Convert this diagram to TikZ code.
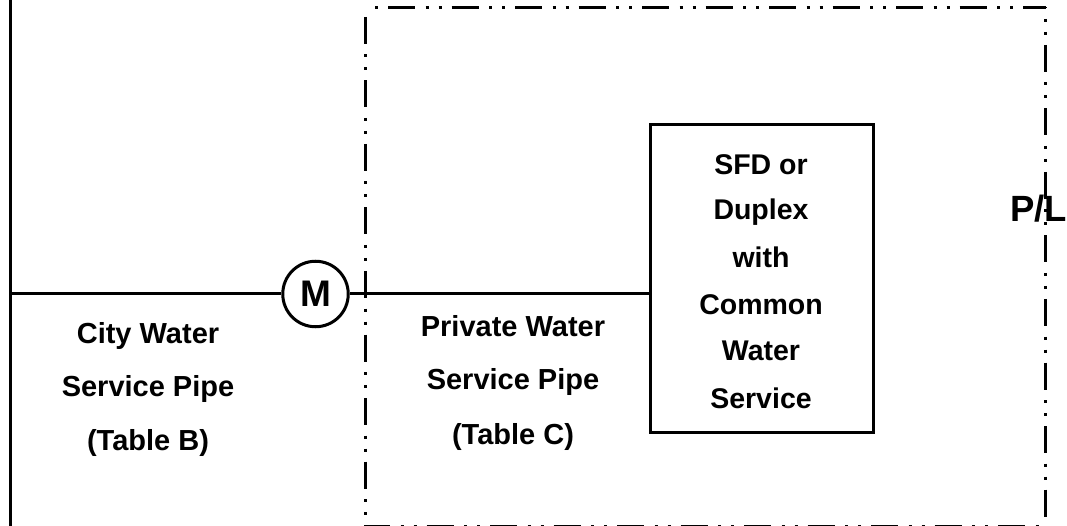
\documentclass[tikz,border=0pt]{standalone}
\usepackage{fontspec}
\setmainfont{Liberation Sans}
\tikzset{
  x=1pt,y=-1pt,
  pipe/.style={line width=3pt,black},
  pl/.style={line width=3pt,black,dash pattern=on 27pt off 10.5pt on 3pt off 10pt on 3pt off 10pt},
  lbl/.style={font=\fontsize{29pt}{34pt}\bfseries,inner sep=0pt,anchor=center},
  boxlbl/.style={font=\fontsize{28.5pt}{34pt}\bfseries,inner sep=0pt,anchor=center},
}
\begin{document}
\begin{tikzpicture}
\useasboundingbox (0,0) rectangle (1067,526);
\clip (0,0) rectangle (1067,526);
\draw[pl,dash phase=40.5pt] (365,7.5) -- (1046,7.5);
\draw[pl,dash phase=54pt] (365,7.5) -- (365,526);
\draw[pl,dash phase=26pt] (1045,7.5) -- (1045,526);
\draw[pl,dash phase=2pt] (365,526) -- (1046,526);
\coordinate (lt) at (10,0);
\coordinate (lb) at (10,526);
\coordinate (lj) at (10,293.5);
\draw[pipe] (lt) -- (lb);
\node[draw,circle,line width=3pt,minimum size=65.5pt,inner sep=0pt,font=\fontsize{37pt}{38pt}\bfseries] (m) at (315.5,294) {M};
\node[draw,line width=3pt,minimum width=223pt,minimum height=307pt,inner sep=0pt] (box) at (761.5,278.5) {};
\draw[pipe] (lj) -- (m.west |- lj);
\draw[pipe] (m.east |- 0,294) -- (box.west |- 0,294);
\node[boxlbl] (b1) at (761,165) {SFD or};
\node[boxlbl] (b2) at (761,212) {Duplex};
\node[boxlbl] (b3) at (761,257) {with};
\node[boxlbl] (b4) at (761,305) {Common};
\node[boxlbl] (b5) at (761,351) {Water};
\node[boxlbl] (b6) at (761,398) {Service};
\node[lbl] (c1) at (148,336) {City Water};
\node[lbl] (c2) at (148,389) {Service Pipe};
\node[lbl] (c3) at (148,443) {(Table B)};
\node[lbl] (p1) at (513,326) {Private Water};
\node[lbl] (p2) at (513,382) {Service Pipe};
\node[lbl] (p3) at (513,437) {(Table C)};
\node[font=\fontsize{36.5pt}{40pt}\bfseries,inner sep=0pt] (pl) at (1038.5,209) {P/L};
\end{tikzpicture}
\end{document}
